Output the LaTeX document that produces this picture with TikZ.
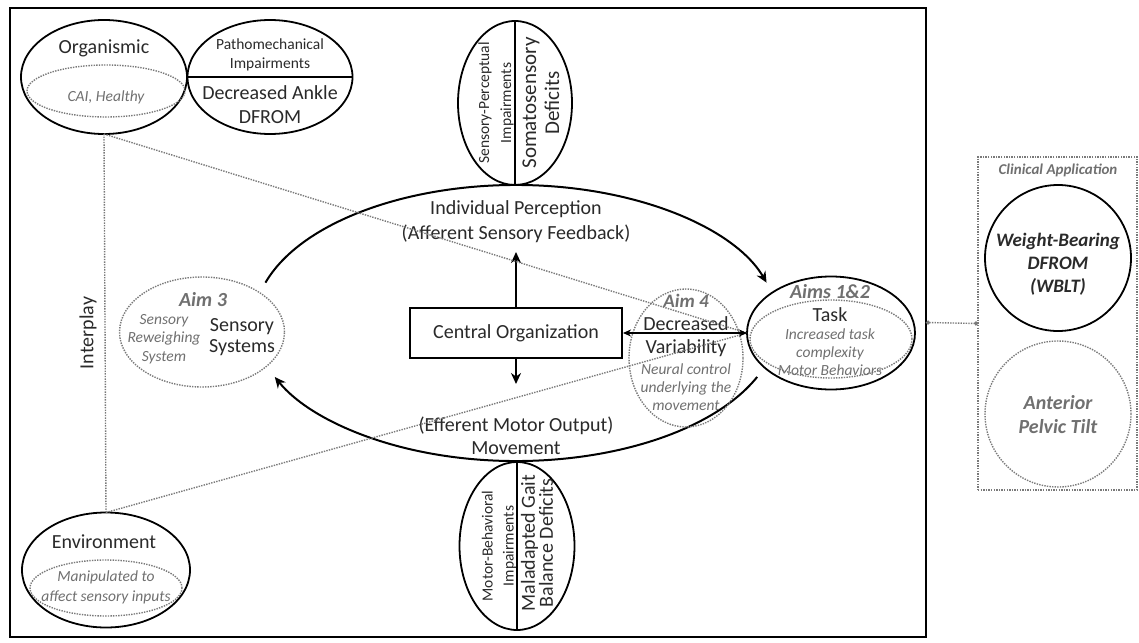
\documentclass[tikz,border=0pt]{standalone}
\usepackage{fontspec}
\setmainfont{Carlito}
\usetikzlibrary{shapes.geometric,arrows.meta,calc}
\definecolor{ink}{HTML}{2A2A2A}
\definecolor{soft}{HTML}{707070}
\definecolor{dotc}{HTML}{7A7A7A}
\begin{document}
\begin{tikzpicture}[x=1pt,y=1pt,
  solidoval/.style={ellipse,draw=black,line width=1.8pt,inner sep=0pt,outer sep=0pt},
  dotoval/.style={ellipse,draw=dotc,line width=1.4pt,dash pattern=on 1.4pt off 1.2pt,inner sep=0pt,outer sep=0pt},
  dotline/.style={draw=dotc,line width=1.4pt,dash pattern=on 1.4pt off 1.2pt},
  main/.style={text=ink,inner sep=0pt,align=center,font=\fontsize{20}{24}\selectfont},
  note/.style={text=soft,inner sep=0pt,align=center,font=\itshape\fontsize{15.5}{18.5}\selectfont},
  aimtxt/.style={text=soft,inner sep=0pt,align=center,font=\bfseries\itshape\fontsize{20}{24}\selectfont},
  arr/.style={line width=2pt,-{Stealth[length=11pt,width=10pt]}},
]
\fill[white] (0,0) rectangle (1139,-642);
\useasboundingbox (0,0) rectangle (1139,-642);

% frame
\node[draw,line width=2.6pt,minimum width=916pt,minimum height=629pt,inner sep=0pt,outer sep=0pt] (frame) at (468,-322.5) {};

% Organismic
\node[solidoval,minimum width=166pt,minimum height=114pt] (org) at (104,-77) {};
\node[dotoval,minimum width=158pt,minimum height=52pt] (orgin) at (106,-91) {};
\node[main] (orgT) at (104,-48) {Organismic};
\node[note] (orgN) at (106,-97) {CAI, Healthy};

% Pathomechanical
\node[solidoval,minimum width=165pt,minimum height=114pt] (patho) at (270,-77) {};
\draw[line width=1.8pt] (patho.west) -- (patho.east);
\node[main,font=\fontsize{15.5}{19}\selectfont] (pathoT) at (270,-55) {Pathomechanical\\Impairments};
\node[main] (ankle) at (270,-105) {Decreased Ankle\\DFROM};

% Somatosensory
\node[solidoval,minimum width=114pt,minimum height=164pt] (soma) at (515,-103) {};
\draw[line width=1.8pt] (soma.north) -- (soma.south);
\node[main,rotate=90,font=\fontsize{15.5}{22}\selectfont] (somaL) at (496,-103) {Sensory-Perceptual\\Impairments};
\node[main,rotate=90,font=\fontsize{21}{23}\selectfont] (somaR) at (541,-103) {Somatosensory\\Deficits};

% big loop
\coordinate (big) at (516,-323);
\draw[arr] ($(big)+(163:262pt and 138pt)$) arc[start angle=163,end angle=17,x radius=262pt,y radius=138pt];
\draw[arr] ($(big)+(-23:262pt and 138pt)$) arc[start angle=-23,end angle=-157,x radius=262pt,y radius=138pt];

\node[main,font=\fontsize{20}{25}\selectfont] (perc) at (516,-222) {Individual Perception\\(Afferent Sensory Feedback)};
\node[draw,line width=2pt,minimum width=212pt,minimum height=50pt,main] (central) at (516,-333) {Central Organization};
\node[main,font=\fontsize{20}{23}\selectfont] (motor) at (516,-436) {(Efferent Motor Output)\\Movement};
\coordinate (percTip) at (516,-252);
\coordinate (moveTip) at (516,-384);
\draw[arr] (central.north) -- (percTip);
\draw[arr] (central.south) -- (moveTip);

% Motor-behavioral
\node[solidoval,minimum width=115pt,minimum height=168pt] (mb) at (517,-546) {};
\draw[line width=1.8pt] (mb.north) -- (mb.south);
\node[main,rotate=90,font=\fontsize{15.5}{21}\selectfont] (mbL) at (499,-546) {Motor-Behavioral\\Impairments};
\node[main,rotate=90,font=\fontsize{20}{16}\selectfont] (mbR) at (537,-543) {Maladapted Gait\\Balance Deficits};

% Aim 3
\node[dotoval,minimum width=165pt,minimum height=110pt] (aim3) at (202,-332) {};
\node[aimtxt] (aim3T) at (203,-300) {Aim 3};
\node[note] (aim3N) at (164,-339) {Sensory\\Reweighing\\System};
\node[main,font=\fontsize{20}{21}\selectfont] (sens) at (242,-337) {Sensory\\Systems};

% Aim 4
\node[dotoval,minimum width=114pt,minimum height=138pt] (aim4) at (686,-358) {};
\node[aimtxt,font=\bfseries\itshape\fontsize{19}{22}\selectfont] (aim4T) at (686,-301) {Aim 4};
\node[main,font=\fontsize{20}{23}\selectfont] (decv) at (686,-337) {Decreased\\Variability};
\node[note,font=\itshape\fontsize{15.5}{18}\selectfont] (aim4N) at (686,-387) {Neural control\\underlying the\\movement};

% Task
\node[solidoval,minimum width=168pt,minimum height=113pt] (task) at (831,-333) {};
\node[dotoval,minimum width=162pt,minimum height=78pt] (taskin) at (831,-339) {};
\node[aimtxt] (aims12) at (830,-292) {Aims 1\&2};
\node[main] (taskT) at (830,-315) {Task};
\node[note,font=\itshape\fontsize{15.5}{18}\selectfont] (taskN) at (830,-352) {Increased task\\complexity\\Motor Behaviors};

% Environment
\node[solidoval,minimum width=168pt,minimum height=115pt] (env) at (106,-570) {};
\node[dotoval,minimum width=152pt,minimum height=56pt] (envin) at (106,-588) {};
\node[main] (envT) at (104,-542) {Environment};
\node[note,font=\itshape\fontsize{15.5}{20}\selectfont] (envN) at (106,-587) {Manipulated to\\affect sensory inputs};

\node[main,rotate=90] (interplay) at (88,-333) {Interplay};

% connectors
\draw[dotline] (org.south) -- (env.north);
\draw[dotline] (org.south) -- (task.west);
\draw[dotline] (env.north) -- (task.west);
\draw[line width=2pt,{Stealth[length=8pt,width=7pt]}-{Stealth[length=8pt,width=7pt]}] (central.east) -- (task.west);

% Clinical application
\node[draw=dotc,line width=1.4pt,dash pattern=on 1.4pt off 1.2pt,minimum width=159pt,minimum height=333pt,inner sep=0pt,outer sep=0pt] (clin) at (1057.5,-323.5) {};
\node[note,font=\bfseries\itshape\fontsize{15}{18}\selectfont] (clinT) at (1058,-170) {Clinical Application};
\node[circle,draw=black,line width=1.8pt,minimum size=146pt,inner sep=0pt] (wb) at (1058,-258) {};
\node[text=ink,inner sep=0pt,align=center,font=\bfseries\itshape\fontsize{19}{23}\selectfont] (wbT) at (1058,-264) {Weight-Bearing\\DFROM\\(WBLT)};
\node[circle,draw=dotc,line width=1.4pt,dash pattern=on 1.4pt off 1.2pt,minimum size=146pt,inner sep=0pt] (apt) at (1058,-414) {};
\node[aimtxt] (aptT) at (1058,-415) {Anterior\\Pelvic Tilt};
\draw[dotline,{Circle[length=4pt]}-{Circle[length=4pt]}] (frame.east) -- (clin.west);
\end{tikzpicture}
\end{document}
